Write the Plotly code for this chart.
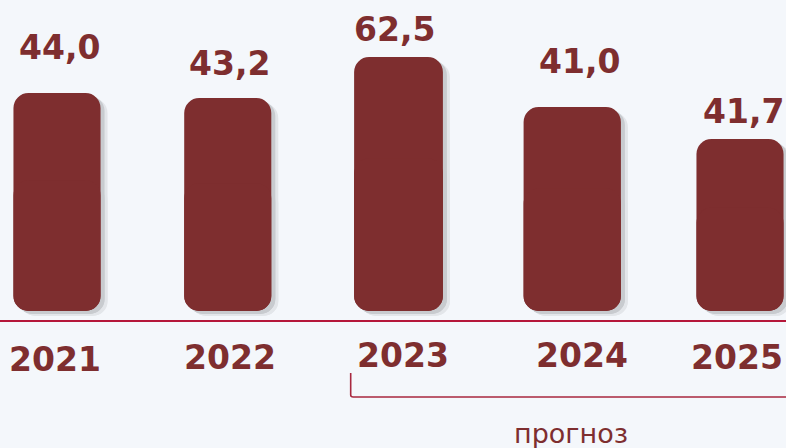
import plotly.graph_objects as go

# dados
years = ["2021", "2022", "2023", "2024", "2025"]
values = [44.0, 43.2, 62.5, 41.0, 41.7]
value_labels = ["44,0", "43,2", "62,5", "41,0", "41,7"]
# altura visual das colunas (não proporcional aos valores no original)
bar_heights = [218, 213, 254, 204, 172]
forecast_from = "2023"
forecast_text = "прогноз"

BAR = "#7e2e2f"
LINE = "#b5173a"
BG = "#f4f7fb"
FONT = "DejaVu Sans"

x = list(range(len(years)))
widths = [0.51, 0.51, 0.52, 0.57, 0.51]
nudge = [0, 0, 0, 3, 0]  # deslocamento fino em pixels
px = 170.75  # pixels por unidade do eixo x
R = 15


def rounded_bars(fig, color, dx=0, dy=0, **kw):
    # coluna inteira (topo arredondado) + parte negativa por cima (base arredondada)
    offs = [-w / 2 + (dx + n) / px for w, n in zip(widths, nudge)]
    fig.add_trace(go.Bar(
        x=x, y=bar_heights, base=[-dy] * len(x), width=widths, offset=offs,
        marker=dict(color=color, cornerradius=R, line_width=0),
        hoverinfo="skip", showlegend=False,
    ))
    mid = [h * 0.6 - dy for h in bar_heights]
    fig.add_trace(go.Bar(
        x=x, y=[-h * 0.6 for h in bar_heights], base=mid, width=widths, offset=offs,
        marker=dict(color=color, cornerradius=R, line_width=0),
        showlegend=False, **kw,
    ))


fig = go.Figure()

# sombra
rounded_bars(fig, "#e3e6ea", dx=7, dy=5, hoverinfo="skip")
rounded_bars(fig, "#c8cbcf", dx=4, dy=3, hoverinfo="skip")
# colunas
rounded_bars(fig, BAR, customdata=values,
             hovertemplate="%{customdata}<extra></extra>")

# rótulos de valor
label_dy = [46, 35, 28, 46, 28]
label_dx = [2, 2, -4, 10, 3]
for i, txt in enumerate(value_labels):
    fig.add_annotation(
        x=x[i], y=bar_heights[i] + label_dy[i], text=txt, showarrow=False,
        xshift=label_dx[i], yanchor="middle",
        font=dict(family=FONT, size=33, weight="bold", color=BAR),
    )

# anos
year_dx = [-2, 2, 4, 13, -3]
year_y = [-48, -46, -44, -44, -46]
for i, yr in enumerate(years):
    fig.add_annotation(
        x=x[i], y=year_y[i], text=yr, showarrow=False, xshift=year_dx[i],
        yanchor="middle",
        font=dict(family=FONT, size=33, weight="bold", color=BAR),
    )

# linha de base
fig.add_shape(type="line", xref="paper", x0=0, x1=1, yref="y", y0=-10, y1=-10,
              line=dict(color=LINE, width=2))

# colchete do prognóstico
xs = years.index(forecast_from) - 0.28
fig.add_shape(
    type="path", xref="x", yref="y",
    path=f"M {xs},-62 L {xs},-84 Q {xs},-86 {xs + 0.015},-86 L 4.4,-86",
    line=dict(color="#a8283f", width=1.6),
)
fig.add_annotation(
    x=3, y=-122, text=forecast_text, showarrow=False, xshift=2,
    font=dict(family=FONT, size=27, color=BAR),
)

fig.update_layout(
    width=786, height=448,
    margin=dict(l=0, r=0, t=0, b=0),
    barmode="overlay",
    paper_bgcolor=BG, plot_bgcolor=BG,
    xaxis=dict(range=[-57 / px, (786 - 57) / px], visible=False, fixedrange=True),
    yaxis=dict(range=[-137, 311], visible=False, fixedrange=True),
    showlegend=False,
)

fig.write_html("out.html", config={"displayModeBar": False},
               post_script="document.body.style.margin='0';")
